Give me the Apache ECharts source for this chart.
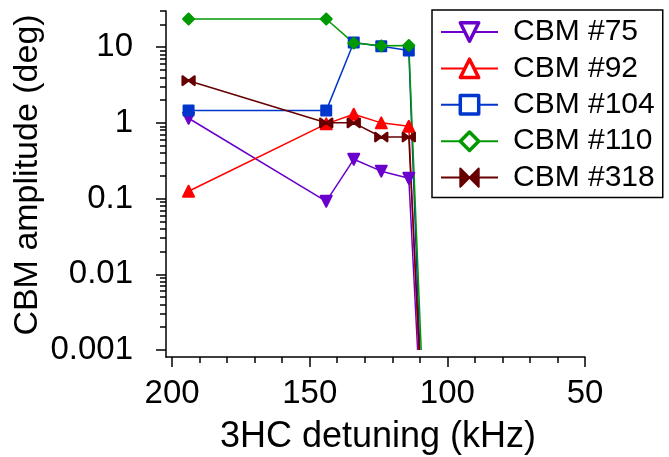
<!DOCTYPE html>
<html><head><meta charset="utf-8">
<script src="https://cdn.jsdelivr.net/npm/echarts@6/dist/echarts.min.js"></script>
<style>html,body{margin:0;padding:0;background:#fff}#c{width:669px;height:457px}</style>
</head><body><div id="c"></div>
<script>
// ---- data ----
const seriesNames = ['CBM #75', 'CBM #92', 'CBM #104', 'CBM #110', 'CBM #318'];
const detuning75  = [194, 144, 134, 124, 114, 110.8];
const amp75       = [1.15, 0.092, 0.33, 0.23, 0.185, 0.001];
const detuning92  = [194, 144, 134, 124, 114, 110.4];
const amp92       = [0.125, 0.97, 1.3, 1.0, 0.9, 0.001];
const detuning104 = [194, 144, 134, 124, 114, 110.0];
const amp104      = [1.45, 1.45, 11.5, 10.3, 9.0, 0.001];
const detuning110 = [194, 144, 134, 124, 114, 109.5];
const amp110      = [23.5, 23.5, 11.3, 10.4, 10.5, 0.001];
const detuning318 = [194, 144, 134, 124, 114, 110.2];
const amp318      = [3.6, 1.0, 1.0, 0.65, 0.65, 0.001];

const xMajorTicks = [200, 150, 100, 50];
const xMinorTicks = [190, 180, 170, 160, 140, 130, 120, 110, 90, 80, 70, 60];
const yMajorTicks = [0.001, 0.01, 0.1, 1, 10];
const yTickLabels = ['0.001', '0.01', '0.1', '1', '10'];
const yMinorTicks = [0.002, 0.003, 0.004, 0.005, 0.006, 0.007, 0.008, 0.009,
                     0.02, 0.03, 0.04, 0.05, 0.06, 0.07, 0.08, 0.09,
                     0.2, 0.3, 0.4, 0.5, 0.6, 0.7, 0.8, 0.9,
                     2, 3, 4, 5, 6, 7, 8, 9, 20, 30];
const xRange = [50, 202.2];
const yRange = [0.000808, 30];
const yFloor = 0.001;

// ---- styling ----
const FONT = 'Liberation Sans';
const colors = ['#6a00cc', '#ff0000', '#0036cc', '#009a00', '#660000'];
const symbols = ['path://M0,0L10,0L5,9Z', 'triangle', 'rect', 'diamond', 'path://M0,0L6,4L0,8ZM12,0L6,4L12,8Z'];
const symbolSizes = [11, 11, 10, 11, [12, 9]];
const xs = [detuning75, detuning92, detuning104, detuning110, detuning318];
const ys = [amp75, amp92, amp104, amp110, amp318];

const L10 = v => Math.log10(v);
const lyRange = [L10(yRange[0]), L10(yRange[1])];

const series = seriesNames.map((name, i) => ({
  name: name,
  type: 'line',
  xAxisIndex: 0, yAxisIndex: 0,
  symbol: symbols[i],
  symbolSize: symbolSizes[i],
  lineStyle: { color: colors[i], width: 1.5 },
  itemStyle: { color: colors[i], borderColor: colors[i], borderWidth: 2, borderJoin: 'round' },
  emphasis: { disabled: true },
  data: xs[i].map((x, j) => ys[i][j] <= yFloor
    ? { value: [x, ys[i][j]], symbol: 'none' }
    : [x, ys[i][j]])
}));

const chart = echarts.init(document.getElementById('c'), null, { renderer: 'canvas' });
chart.setOption({
  animation: false,
  backgroundColor: '#fff',
  grid: { left: 166, right: 84, top: 11, bottom: 100, containLabel: false, outerBoundsMode: 'none' },
  legend: {
    orient: 'vertical', left: 432, top: 10,
    backgroundColor: '#fff', borderColor: '#000', borderWidth: 1.5,
    padding: [7, 8, 5, 8], itemGap: 6.4, itemWidth: 57, itemHeight: 23,
    textStyle: { fontFamily: FONT, fontSize: 30, color: '#000', padding: [0, 0, 0, 10] },
    data: seriesNames.map((n, i) => ({
      name: n,
      itemStyle: i === 4
        ? { color: colors[i], borderColor: colors[i], borderWidth: 2 }
        : { color: '#fff', borderColor: colors[i], borderWidth: 3.5 }
    }))
  },
  xAxis: [
    {
      type: 'value', min: xRange[0], max: xRange[1], inverse: true, position: 'bottom',
      name: '3HC detuning (kHz)', nameLocation: 'middle', nameGap: 62.5,
      nameTextStyle: { fontFamily: FONT, fontSize: 36, color: '#000', padding: [0, 0, 0, 5] },
      axisLine: { show: true, onZero: false, lineStyle: { color: '#000', width: 1.5 } },
      axisTick: { show: true, length: 10, customValues: xMajorTicks, lineStyle: { color: '#000', width: 1.5 } },
      axisLabel: { show: true, customValues: xMajorTicks, margin: 20, fontFamily: FONT, fontSize: 33, color: '#000' },
      splitLine: { show: false }
    },
    {
      type: 'value', min: xRange[0], max: xRange[1], inverse: true, position: 'bottom',
      axisLine: { show: false, onZero: false },
      axisTick: { show: true, length: 6, customValues: xMinorTicks, lineStyle: { color: '#000', width: 1.5 } },
      axisLabel: { show: false },
      splitLine: { show: false }
    }
  ],
  yAxis: [
    {
      type: 'log', min: yRange[0], max: yRange[1], position: 'left',
      name: 'CBM amplitude (deg)', nameLocation: 'middle', nameGap: 121.5,
      nameTextStyle: { fontFamily: FONT, fontSize: 34, color: '#000', padding: [0, 0, 0, 18] },
      axisLine: { show: true, onZero: false, lineStyle: { color: '#000', width: 1.5 } },
      axisTick: { show: false },
      axisLabel: { show: false },
      splitLine: { show: false }, minorTick: { show: false }
    },
    {
      type: 'value', min: lyRange[0], max: lyRange[1], position: 'left',
      axisLine: { show: false, onZero: false },
      axisTick: { show: true, length: 10, customValues: yMajorTicks.map(L10), lineStyle: { color: '#000', width: 1.5 } },
      axisLabel: {
        show: true, customValues: yMajorTicks.map(L10), margin: 33,
        fontFamily: FONT, fontSize: 33, color: '#000',
        formatter: v => {
          const k = yMajorTicks.findIndex(t => Math.abs(L10(t) - v) < 1e-6);
          return k >= 0 ? yTickLabels[k] : '';
        }
      },
      splitLine: { show: false }
    },
    {
      type: 'value', min: lyRange[0], max: lyRange[1], position: 'left',
      axisLine: { show: false, onZero: false },
      axisTick: { show: true, length: 6, customValues: yMinorTicks.map(L10), lineStyle: { color: '#000', width: 1.5 } },
      axisLabel: { show: false },
      splitLine: { show: false }
    }
  ],
  series: series
});
</script>
</body></html>
